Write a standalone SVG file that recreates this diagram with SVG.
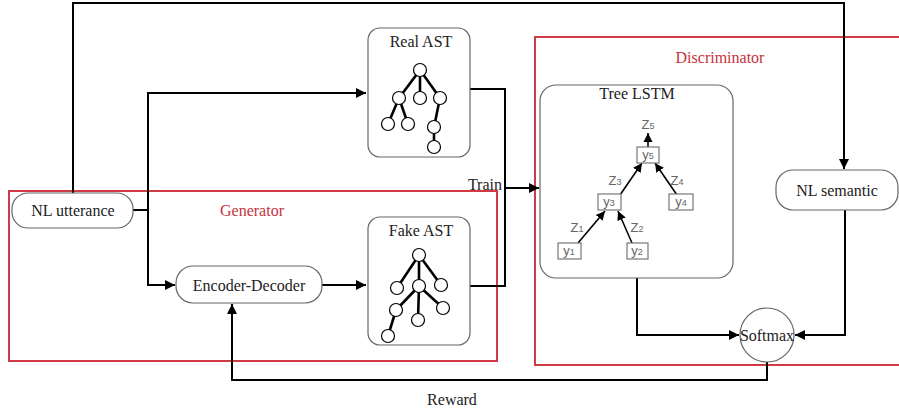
<svg xmlns="http://www.w3.org/2000/svg" width="899" height="413" viewBox="0 0 899 413">
<style>
.lbl{font-family:"Liberation Serif","Times New Roman",serif;font-size:16px;fill:#222;text-anchor:middle;dominant-baseline:central}
.red{fill:#c8323c}
.box{fill:#fff;stroke:#666;stroke-width:1.2}
.grp{fill:none;stroke:#d03a44;stroke-width:2}
.conn{fill:none;stroke:#000;stroke-width:2}
.tarr{fill:none;stroke:#000;stroke-width:1.6}
.tedge{stroke:#000;stroke-width:2.6}
.tnode{fill:#fff;stroke:#000;stroke-width:1.2}
.sb{fill:#fff;stroke:#777;stroke-width:1.2}
.sl{font-family:"Liberation Sans",Arial,sans-serif;font-size:13px;fill:#666;text-anchor:middle}
.sub{font-size:9px}
</style>
<defs>
<marker id="ah" markerUnits="userSpaceOnUse" markerWidth="11" markerHeight="10" refX="10" refY="5" orient="auto"><path d="M0,0 L10,5 L0,10 z" fill="#000"/></marker>
<marker id="ahs" markerUnits="userSpaceOnUse" markerWidth="10" markerHeight="10" refX="9" refY="5" orient="auto"><path d="M0,0.5 L9,5 L0,9.5 z" fill="#000"/></marker>
</defs>

<!-- group frames -->
<g id="generator-frame">
<rect class="grp" x="9" y="191" width="488" height="170"/>
<text class="lbl red" x="252" y="210">Generator</text>
</g>
<g id="discriminator-frame">
<path class="grp" d="M905,37 L535,37 L535,365 L905,365"/>
<text class="lbl red" x="720" y="57">Discriminator</text>
</g>

<!-- connectors -->
<g id="connectors">
<path class="conn" d="M73,193 L73,3 L844,3 L844,169" marker-end="url(#ah)"/>
<path class="conn" d="M133,210 L148,210"/>
<path class="conn" d="M148,285 L148,93 L366,93" marker-end="url(#ah)"/>
<path class="conn" d="M148,210 L148,285 L175,285" marker-end="url(#ah)"/>
<path class="conn" d="M322,285 L366,285" marker-end="url(#ah)"/>
<path class="conn" d="M470,89 L505,89 L505,286 L470,286"/>
<path class="conn" d="M505,188 L539,188" marker-end="url(#ah)"/>
<path class="conn" d="M637,278 L637,335 L739,335" marker-end="url(#ah)"/>
<path class="conn" d="M845,210 L845,335 L795,335" marker-end="url(#ah)"/>
<path class="conn" d="M767,362 L767,380 L232,380 L232,304" marker-end="url(#ah)"/>
<text class="lbl" x="502" y="184" style="text-anchor:end">Train</text>
<text class="lbl" x="452" y="399">Reward</text>
</g>

<g id="nl-utterance">
<rect class="box" x="12" y="193" width="121" height="35" rx="16"/>
<text class="lbl" x="73" y="210">NL utterance</text>
</g>

<g id="encoder-decoder">
<rect class="box" x="176" y="266" width="146" height="37" rx="17"/>
<text class="lbl" x="249" y="285">Encoder-Decoder</text>
</g>

<g id="real-ast">
<rect class="box" x="368" y="28" width="102" height="129" rx="12"/>
<text class="lbl" x="421" y="41">Real AST</text>
<g class="tedge">
<line x1="420" y1="70" x2="399" y2="98"/><line x1="420" y1="70" x2="420" y2="98"/><line x1="420" y1="70" x2="440" y2="98"/>
<line x1="399" y1="98" x2="388" y2="124"/><line x1="399" y1="98" x2="408" y2="124"/>
<line x1="440" y1="98" x2="434" y2="127"/><line x1="434" y1="127" x2="434" y2="147"/>
</g>
<g class="tnode">
<circle cx="420" cy="70" r="6.5"/><circle cx="399" cy="98" r="6.5"/><circle cx="420" cy="98" r="6.5"/><circle cx="440" cy="98" r="6.5"/>
<circle cx="388" cy="124" r="6.5"/><circle cx="408" cy="124" r="6.5"/><circle cx="434" cy="127" r="6.5"/><circle cx="434" cy="147" r="6.5"/>
</g>
</g>

<g id="fake-ast">
<rect class="box" x="368" y="217" width="102" height="128" rx="12"/>
<text class="lbl" x="421" y="230">Fake AST</text>
<g class="tedge">
<line x1="419" y1="255" x2="397" y2="288"/><line x1="419" y1="255" x2="419" y2="286"/><line x1="419" y1="255" x2="441" y2="285"/>
<line x1="419" y1="286" x2="396" y2="310"/><line x1="419" y1="286" x2="418" y2="320"/><line x1="419" y1="286" x2="443" y2="308"/>
<line x1="396" y1="310" x2="388" y2="336"/>
</g>
<g class="tnode">
<circle cx="419" cy="255" r="6.5"/><circle cx="397" cy="288" r="6.5"/><circle cx="419" cy="286" r="6.5"/><circle cx="441" cy="285" r="6.5"/>
<circle cx="396" cy="310" r="6.5"/><circle cx="418" cy="320" r="6.5"/><circle cx="443" cy="308" r="6.5"/><circle cx="388" cy="336" r="6.5"/>
</g>
</g>

<g id="tree-lstm">
<rect class="box" x="540" y="85" width="193" height="193" rx="16"/>
<text class="lbl" x="637" y="93">Tree LSTM</text>
<g class="tarr">
<line x1="648" y1="147" x2="648" y2="133" marker-end="url(#ahs)"/>
<line x1="620" y1="195" x2="642" y2="163" marker-end="url(#ahs)"/>
<line x1="677" y1="195" x2="655" y2="163" marker-end="url(#ahs)"/>
<line x1="578" y1="243" x2="605" y2="211" marker-end="url(#ahs)"/>
<line x1="632" y1="243" x2="618" y2="211" marker-end="url(#ahs)"/>
</g>
<rect class="sb" x="637" y="147" width="22" height="16"/>
<rect class="sb" x="598" y="194" width="23" height="16"/>
<rect class="sb" x="669" y="194" width="24" height="16"/>
<rect class="sb" x="558" y="243" width="23" height="16"/>
<rect class="sb" x="627" y="243" width="21" height="16"/>
<text class="sl" x="648" y="159">y<tspan class="sub">5</tspan></text>
<text class="sl" x="609" y="206">y<tspan class="sub">3</tspan></text>
<text class="sl" x="681" y="206">y<tspan class="sub">4</tspan></text>
<text class="sl" x="569" y="255">y<tspan class="sub">1</tspan></text>
<text class="sl" x="637" y="255">y<tspan class="sub">2</tspan></text>
<text class="sl" x="648" y="129">Z<tspan class="sub">5</tspan></text>
<text class="sl" x="615" y="185">Z<tspan class="sub">3</tspan></text>
<text class="sl" x="677" y="185">Z<tspan class="sub">4</tspan></text>
<text class="sl" x="577" y="232">Z<tspan class="sub">1</tspan></text>
<text class="sl" x="637" y="232">Z<tspan class="sub">2</tspan></text>
</g>

<g id="nl-semantic">
<rect class="box" x="776" y="170" width="122" height="40" rx="17"/>
<text class="lbl" x="837" y="190">NL semantic</text>
</g>

<g id="softmax">
<circle cx="767" cy="335" r="27" fill="#fff" stroke="#666" stroke-width="1.2"/>
<text class="lbl" x="767" y="335">Softmax</text>
</g>
</svg>
